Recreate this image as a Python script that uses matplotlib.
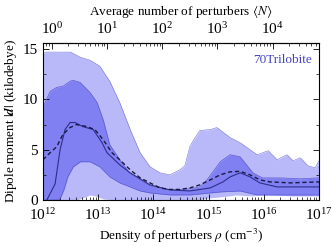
import numpy as np
import matplotlib
matplotlib.use("Agg")
import matplotlib.pyplot as plt
from matplotlib.ticker import LogLocator, MultipleLocator, NullFormatter, FixedLocator, LogFormatterSciNotation

plt.rcParams['font.family'] = ['Liberation Serif', 'DejaVu Serif']
plt.rcParams['mathtext.fontset'] = 'stix'
plt.rcParams['font.size'] = 9

# log10 density grids and values (kilodebye)
outer_hi_x = [12.0, 12.05, 12.5, 12.67, 12.85, 13.03, 13.21, 13.39, 13.58, 13.76, 13.94, 14.12, 14.3, 14.48, 14.57,
              14.66, 14.72, 14.84, 15.03, 15.15, 15.39, 15.57, 15.75, 15.88, 16.08, 16.24, 16.42, 16.53, 16.66, 16.8, 16.93, 17.0]
outer_hi_y = [14.5, 14.7, 14.7, 14.2, 13.9, 13.3, 11.8, 9.7, 7.0, 4.7, 3.3, 2.7, 2.5, 3.0, 3.4,
              5.3, 5.9, 6.9, 7.0, 7.2, 6.2, 5.7, 5.0, 4.5, 4.9, 4.0, 4.5, 3.9, 4.2, 3.4, 3.2, 3.9]

outer_lo_x = [12.0, 12.6, 12.72, 12.85, 12.95, 13.1, 13.3, 14.8, 15.0, 15.2, 15.5, 15.8, 16.0, 16.5, 17.0]
outer_lo_y = [0.0, 0.0, 0.2, 0.5, 0.4, 0.1, 0.0, 0.0, 0.2, 0.3, 0.5, 0.4, 0.6, 0.4, 0.4]

inner_hi_x = [12.0, 12.13, 12.25, 12.36, 12.49, 12.54, 12.67, 12.85, 12.98, 13.09, 13.21, 13.39, 13.58, 13.76, 13.94,
              14.3, 14.66, 14.84, 14.97, 15.08, 15.21, 15.39, 15.57, 15.7, 15.8, 15.97, 16.29, 16.66, 17.0]
inner_hi_y = [9.2, 10.8, 11.2, 11.3, 11.8, 11.9, 11.7, 10.7, 9.7, 8.0, 5.5, 4.0, 2.6, 2.0, 1.4,
              1.0, 1.1, 1.3, 2.0, 2.8, 3.8, 4.5, 4.3, 3.4, 2.7, 2.2, 2.2, 2.1, 2.2]

inner_lo_x = [12.0, 12.3, 12.38, 12.45, 12.55, 12.68, 12.85, 13.03, 13.21, 13.39, 13.58, 13.76, 13.94, 14.3, 14.66,
              14.84, 15.21, 15.57, 15.88, 17.0]
inner_lo_y = [0.0, 0.0, 1.0, 2.3, 3.3, 3.8, 3.8, 3.3, 2.3, 1.7, 1.3, 0.9, 0.7, 0.5, 0.5,
              0.6, 0.8, 0.9, 0.5, 0.5]

median_x = [12.07, 12.22, 12.31, 12.4, 12.49, 12.58, 12.72, 12.91, 13.07, 13.16, 13.39, 13.58, 13.94, 14.3, 14.66,
            15.03, 15.26, 15.39, 15.57, 15.75, 15.93, 16.24, 17.0]
median_y = [0.0, 1.6, 5.0, 7.0, 7.7, 7.7, 7.3, 7.0, 5.7, 4.7, 3.5, 2.7, 1.5, 1.0, 0.9,
            1.2, 1.8, 2.3, 2.7, 2.3, 1.7, 1.3, 1.3]

mean_x = [12.0, 12.13, 12.25, 12.36, 12.49, 12.61, 12.79, 12.94, 13.09, 13.25, 13.39, 13.58, 13.76, 13.94, 14.12,
          14.3, 14.48, 14.66, 14.84, 15.03, 15.21, 15.39, 15.57, 15.75, 15.93, 16.11, 16.48, 17.0]
mean_y = [4.0, 4.7, 5.3, 6.5, 7.2, 7.5, 7.3, 7.0, 6.0, 4.7, 4.0, 3.0, 2.2, 1.7, 1.2,
          1.05, 1.05, 1.2, 1.5, 2.0, 2.5, 2.8, 2.85, 2.5, 2.0, 1.8, 1.7, 1.8]

top_ticks = [1, 10, 100, 1000, 10000]
N_SCALE = 10 ** 12.16  # density per average perturber

light = '#b9b9fa'
medium = '#8080f3'
edge = '#5a5ad0'

fig = plt.figure(figsize=(3.33, 2.46), dpi=100)
ax = fig.add_axes([0.129, 0.187, 0.829, 0.638])

grid = np.linspace(12, 17, 600)
o_hi = np.interp(grid, outer_hi_x, outer_hi_y)
o_lo = np.interp(grid, outer_lo_x, outer_lo_y)
i_hi = np.interp(grid, inner_hi_x, inner_hi_y)
i_lo = np.interp(grid, inner_lo_x, inner_lo_y)
rho = 10 ** grid

ax.fill_between(rho, o_lo, o_hi, color=light, lw=0)
ax.plot(rho, o_hi, color='#7070dd', lw=0.4)
ax.fill_between(rho, i_lo, i_hi, color=medium, lw=0)
ax.plot(rho, i_hi, color=edge, lw=0.5)
ax.plot(rho, i_lo, color=edge, lw=0.5)
ax.plot(10 ** np.array(median_x), median_y, color='#2e2e8c', lw=0.8)
ax.plot(10 ** np.array(mean_x), mean_y, color='#1a1a40', lw=1.0, ls=(0, (3, 2)))

ax.set_xscale('log')
ax.set_xlim(1e12, 1e17)
ax.set_ylim(0, 15.6)
ax.yaxis.set_major_locator(MultipleLocator(5))
ax.yaxis.set_minor_locator(MultipleLocator(2.5))
ax.xaxis.set_major_locator(LogLocator(base=10, numticks=10))
ax.xaxis.set_minor_locator(LogLocator(base=10, subs=np.arange(2, 10), numticks=20))
ax.xaxis.set_minor_formatter(NullFormatter())
ax.tick_params(which='both', direction='in', top=False, right=True)
ax.tick_params(which='major', length=4, width=0.6, labelsize=11)
ax.tick_params(which='minor', length=2, width=0.5)
ax.tick_params(axis='x', which='major', pad=5)
for s in ax.spines.values():
    s.set_linewidth(0.8)

ax.set_xlabel(r'Density of perturbers $\rho$ (cm$^{-3}$)', fontsize=9.5, labelpad=3)
ax.set_ylabel(r'Dipole moment $|\mathbfit{d}|$ (kilodebye)', fontsize=9.5, labelpad=3)

sec = ax.secondary_xaxis('top', functions=(lambda x: x / N_SCALE, lambda x: x * N_SCALE))
sec.xaxis.set_major_locator(FixedLocator(top_ticks))
sec.xaxis.set_major_formatter(LogFormatterSciNotation())
minor_top = [m * 10.0 ** e for e in range(-1, 5) for m in range(2, 10)
             if 10 ** -0.16 <= m * 10.0 ** e <= 10 ** 4.84]
sec.xaxis.set_minor_locator(FixedLocator(minor_top))
sec.xaxis.set_minor_formatter(NullFormatter())
sec.tick_params(which='both', direction='in')
sec.tick_params(which='major', length=4, width=0.6, labelsize=11, pad=4)
sec.tick_params(which='minor', length=2, width=0.5)
sec.set_xlabel(r'Average number of perturbers $\langle N\rangle$', fontsize=9.5, labelpad=5)

ax.text(0.975, 0.93, '70Trilobite', transform=ax.transAxes, ha='right', va='top',
        color='#4444c4', fontsize=9.5)

fig.savefig('out.png', dpi=100)
